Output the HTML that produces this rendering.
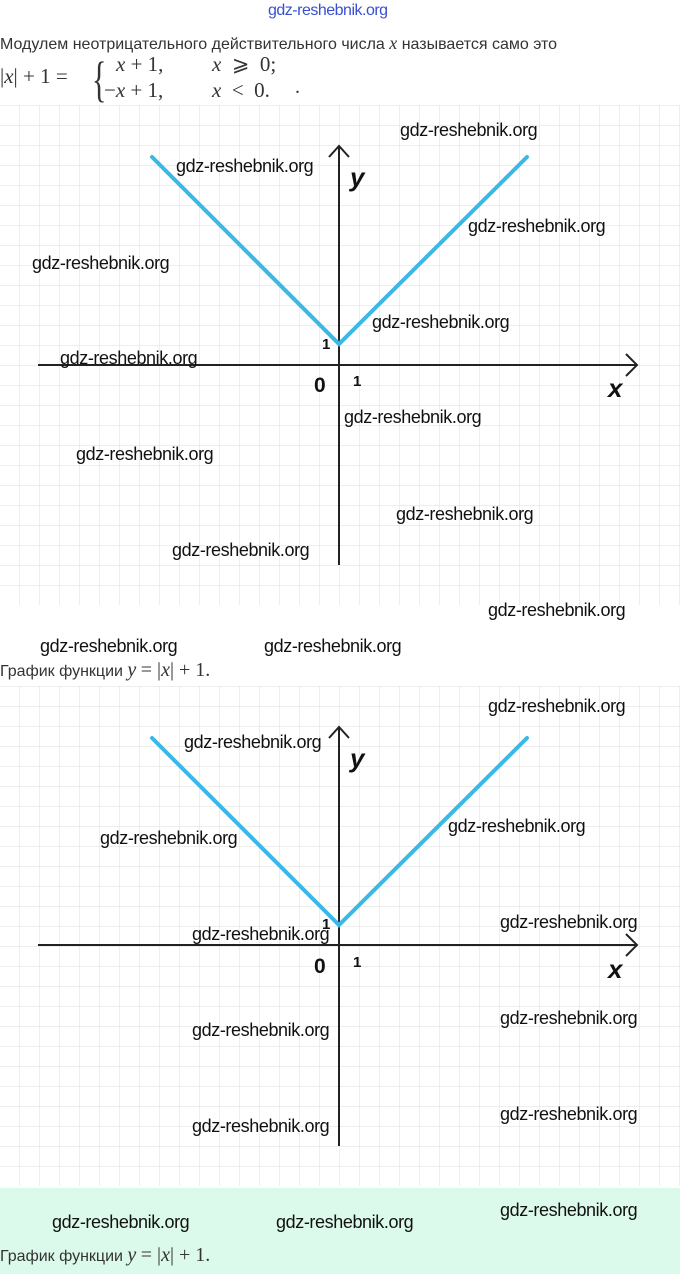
<!DOCTYPE html>
<html><head><meta charset="utf-8"><style>
body{margin:0;width:680px;height:1274px;background:#fff;position:relative;overflow:hidden;font-family:"Liberation Sans",sans-serif}
.t{position:absolute;white-space:nowrap}
.w{position:absolute;font-family:"Liberation Sans",sans-serif;font-size:18px;color:#111;white-space:nowrap;letter-spacing:-0.4px;transform:translateY(-2px)}
.m{font-family:"Liberation Serif",serif;font-style:italic}
.r{font-family:"Liberation Serif",serif}
</style></head><body>
<div class="t" style="left:268px;top:2px;font-size:16px;color:#3a4fd0;letter-spacing:-0.5px">gdz-reshebnik.org</div>
<div class="t" style="left:0;top:33px;font-size:16px;color:#333">Модулем неотрицательного действительного числа <span class="m" style="font-size:18px">x</span> называется само это</div>
<div class="t r" style="left:0;top:64px;font-size:21px;color:#333">|<i>x</i>| + 1 =</div>
<div class="t r" style="left:92px;top:50px;font-size:50px;color:#333;transform:scaleX(0.6);transform-origin:left">{</div>
<div class="t r" style="left:116px;top:52px;font-size:21px;color:#333"><i>x</i> + 1,</div>
<div class="t r" style="left:212px;top:52px;font-size:21px;color:#333"><i>x</i> &nbsp;⩾ &nbsp;0;</div>
<div class="t r" style="left:104px;top:78px;font-size:21px;color:#333">−<i>x</i> + 1,</div>
<div class="t r" style="left:212px;top:78px;font-size:21px;color:#333"><i>x</i> &nbsp;&lt; &nbsp;0.</div>
<div class="t r" style="left:295px;top:76px;font-size:20px;color:#333">.</div>

<svg width="680" height="1274" style="position:absolute;left:0;top:0">
<defs>
<pattern id="g" x="-1" y="105" width="20" height="20" patternUnits="userSpaceOnUse">
<path d="M0 0H20M0 0V20" stroke="#e4e4e4" stroke-width="1.3" fill="none"/></pattern>
<pattern id="g2" x="-1" y="686" width="20" height="20" patternUnits="userSpaceOnUse">
<path d="M0 0H20M0 0V20" stroke="#e4e4e4" stroke-width="1.3" fill="none"/></pattern>
</defs>
<rect x="0" y="105" width="680" height="500" fill="url(#g)"/>
<rect x="0" y="686" width="680" height="500" fill="url(#g2)"/>
<rect x="0" y="1188" width="680" height="86" fill="#dcfaeb"/>
<g stroke="#222" stroke-width="2" fill="none">
<path d="M339 146V565M38 365H636M329 157L339 146L349 157M626 354L637 365L626 376"/>
<path d="M339 727V1146M38 945H636M329 738L339 727L349 738M626 934L637 945L626 956"/>
</g>
<g stroke="#3ab8e6" stroke-width="4" fill="none" stroke-linecap="round">
<path d="M152 157L339 344L527 157"/>
<path d="M152 738L339 925L527 738"/>
</g>
<g font-family="Liberation Sans,sans-serif" fill="#111" font-weight="bold">
<text x="350" y="186" font-size="26" font-style="italic">y</text>
<text x="608" y="397" font-size="26" font-style="italic">x</text>
<text x="322" y="349" font-size="15">1</text>
<text x="314" y="392" font-size="21">0</text>
<text x="353" y="386" font-size="15">1</text>
<text x="350" y="767" font-size="26" font-style="italic">y</text>
<text x="608" y="978" font-size="26" font-style="italic">x</text>
<text x="322" y="929" font-size="15">1</text>
<text x="314" y="973" font-size="21">0</text>
<text x="353" y="967" font-size="15">1</text>
</g>
</svg>

<div class="w" style="left:400px;top:122px">gdz-reshebnik.org</div>
<div class="w" style="left:176px;top:158px">gdz-reshebnik.org</div>
<div class="w" style="left:468px;top:218px">gdz-reshebnik.org</div>
<div class="w" style="left:32px;top:255px">gdz-reshebnik.org</div>
<div class="w" style="left:372px;top:314px">gdz-reshebnik.org</div>
<div class="w" style="left:60px;top:350px">gdz-reshebnik.org</div>
<div class="w" style="left:344px;top:409px">gdz-reshebnik.org</div>
<div class="w" style="left:76px;top:446px">gdz-reshebnik.org</div>
<div class="w" style="left:396px;top:506px">gdz-reshebnik.org</div>
<div class="w" style="left:172px;top:542px">gdz-reshebnik.org</div>
<div class="w" style="left:488px;top:602px">gdz-reshebnik.org</div>
<div class="w" style="left:40px;top:638px">gdz-reshebnik.org</div>
<div class="w" style="left:264px;top:638px">gdz-reshebnik.org</div>
<div class="t" style="left:0;top:659px;font-size:16px;color:#333">График функции <span class="m" style="font-size:20px">y</span> <span class="r" style="font-size:20px">= |<i>x</i>| + 1.</span></div>

<div class="w" style="left:488px;top:698px">gdz-reshebnik.org</div>
<div class="w" style="left:184px;top:734px">gdz-reshebnik.org</div>
<div class="w" style="left:448px;top:818px">gdz-reshebnik.org</div>
<div class="w" style="left:100px;top:830px">gdz-reshebnik.org</div>
<div class="w" style="left:500px;top:914px">gdz-reshebnik.org</div>
<div class="w" style="left:192px;top:926px">gdz-reshebnik.org</div>
<div class="w" style="left:500px;top:1010px">gdz-reshebnik.org</div>
<div class="w" style="left:192px;top:1022px">gdz-reshebnik.org</div>
<div class="w" style="left:500px;top:1106px">gdz-reshebnik.org</div>
<div class="w" style="left:192px;top:1118px">gdz-reshebnik.org</div>
<div class="w" style="left:500px;top:1202px">gdz-reshebnik.org</div>
<div class="w" style="left:52px;top:1214px">gdz-reshebnik.org</div>
<div class="w" style="left:276px;top:1214px">gdz-reshebnik.org</div>
<div class="t" style="left:0;top:1244px;font-size:16px;color:#333">График функции <span class="m" style="font-size:20px">y</span> <span class="r" style="font-size:20px">= |<i>x</i>| + 1.</span></div>
</body></html>
